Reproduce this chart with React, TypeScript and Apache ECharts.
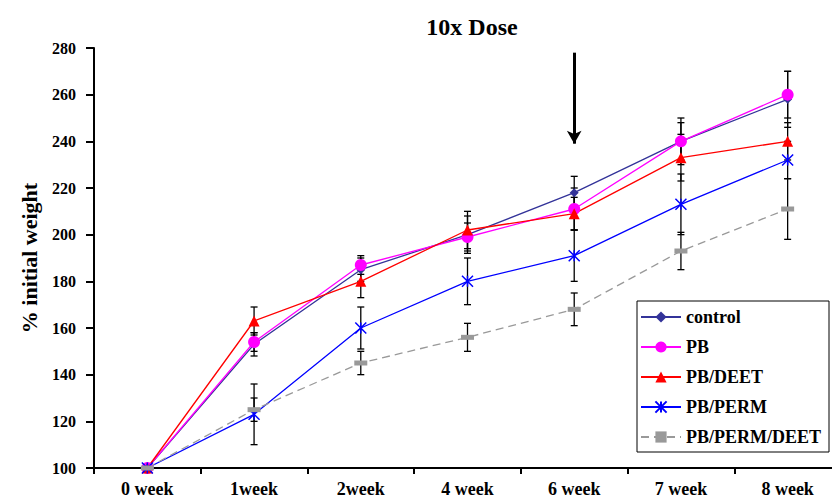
import React, { useEffect, useRef } from "react";
import * as echarts from "echarts";

const categories = ["0 week", "1week", "2week", "4 week", "6 week", "7 week", "8 week"];
const seriesNames = ["control", "PB", "PB/DEET", "PB/PERM", "PB/PERM/DEET"];
const controlValues = [100, 153, 185, 200, 218, 240, 258];
const pbValues = [100, 154, 187, 199, 211, 240, 260];
const pbDeetValues = [100, 163, 180, 202, 209, 233, 240];
const pbPermValues = [100, 123, 160, 180, 191, 213, 232];
const pbPermDeetValues = [100, 125, 145, 156, 168, 193, 211];
const controlErr = [0, 5, 5, 8, 7, 10, 12];
const pbErr = [0, 4, 4, 6, 9, 8, 10];
const pbDeetErr = [0, 6, 7, 8, 7, 10, 8];
const pbPermErr = [0, 13, 9, 10, 11, 13, 8];
const pbPermDeetErr = [0, 5, 5, 6, 7, 8, 13];
const yTicks = { min: 100, max: 280, interval: 20 };
const arrowFrom = 278;
const arrowTo = 239;
const arrowCategory = "6 week";

const FONT = "Liberation Serif";
const colors = ["#333399", "#ff00ff", "#ff0000", "#0000ff", "#999999"];
const symbols = [
  "diamond",
  "circle",
  "triangle",
  "path://M0,0 L10,10 M10,0 L0,10 M5,0 L5,10",
  "rect",
];
const symbolSizes: any[] = [9, 12, 11, 11, [13, 5]];

export default function App() {
  const ref = useRef<HTMLDivElement>(null);
  useEffect(() => {
    if (!ref.current) return;
    const chart = echarts.init(ref.current, null, { renderer: "svg" });
    const values = [controlValues, pbValues, pbDeetValues, pbPermValues, pbPermDeetValues];
    const errs = [controlErr, pbErr, pbDeetErr, pbPermErr, pbPermDeetErr];

    const errData: number[][] = [];
    values.forEach((vals, s) => {
      vals.forEach((v, i) => {
        if (errs[s][i] > 0) errData.push([i, v, errs[s][i]]);
      });
    });

    const lineSeries = seriesNames.map((name, s) => ({
      name,
      type: "line",
      data: values[s],
      symbol: symbols[s],
      symbolSize: symbolSizes[s],
      z: 3,
      lineStyle: {
        color: colors[s],
        width: 1.3,
        type: s === 4 ? [8, 5] : "solid",
      },
      itemStyle: {
        color: colors[s],
        borderColor: colors[s],
        borderWidth: s === 3 ? 1.5 : 0,
        opacity: 1,
      },
      ...(s === 0
        ? {
            markLine: {
              silent: true,
              symbol: ["none", "arrow"],
              symbolSize: [11, 13],
              label: { show: false },
              lineStyle: { color: "#000", width: 3, type: "solid" },
              data: [
                [
                  { coord: [arrowCategory, arrowFrom] },
                  { coord: [arrowCategory, arrowTo] },
                ],
              ],
            },
          }
        : {}),
    }));

    const errSeries = {
      type: "custom",
      name: "err",
      z: 2,
      data: errData,
      renderItem: (params: any, api: any) => {
        const x = api.value(0);
        const v = api.value(1);
        const e = api.value(2);
        const top = api.coord([x, v + e]);
        const bot = api.coord([x, v - e]);
        const w = 3.5;
        const st = { stroke: "#000", lineWidth: 1.3 };
        return {
          type: "group",
          children: [
            { type: "line", shape: { x1: top[0], y1: top[1], x2: bot[0], y2: bot[1] }, style: st },
            { type: "line", shape: { x1: top[0] - w, y1: top[1], x2: top[0] + w, y2: top[1] }, style: st },
            { type: "line", shape: { x1: bot[0] - w, y1: bot[1], x2: bot[0] + w, y2: bot[1] }, style: st },
          ],
        };
      },
    };

    chart.setOption({
      animation: false,
      title: {
        text: "10x Dose",
        left: 467,
        top: 10,
        textAlign: "center",
        textStyle: { fontFamily: FONT, fontWeight: "bold", fontSize: 24, color: "#000" },
      },
      grid: { left: 94, top: 48, width: 747, height: 420, outerBoundsMode: "none", containLabel: false },
      legend: {
        data: seriesNames,
        orient: "vertical",
        left: 637,
        top: 301,
        width: 187,
        padding: [6, 8, 5, 3],
        itemGap: 10,
        itemWidth: 40,
        itemHeight: 14,
        borderColor: "#000",
        borderWidth: 1,
        backgroundColor: "#fff",
        textStyle: { fontFamily: FONT, fontWeight: "bold", fontSize: 18, color: "#000", lineHeight: 20 },
      },
      xAxis: {
        type: "category",
        data: categories,
        boundaryGap: true,
        axisLine: { lineStyle: { color: "#000", width: 2 } },
        axisTick: { show: true, length: 6, lineStyle: { color: "#000", width: 2 } },
        axisLabel: { fontFamily: FONT, fontWeight: "bold", fontSize: 18, color: "#000", margin: 12 },
      },
      yAxis: {
        type: "value",
        min: yTicks.min,
        max: yTicks.max,
        interval: yTicks.interval,
        splitLine: { show: false },
        axisLine: { show: true, lineStyle: { color: "#000", width: 2 } },
        axisTick: { show: true, length: 8, lineStyle: { color: "#000", width: 2 } },
        axisLabel: { fontFamily: FONT, fontWeight: "bold", fontSize: 16, color: "#000", margin: 18 },
      },
      graphic: [
        {
          type: "text",
          x: 29,
          y: 258,
          rotation: Math.PI / 2,
          style: {
            text: "% initial weight",
            fontFamily: FONT,
            fontWeight: "bold",
            fontSize: 22,
            fill: "#000",
            align: "center",
            verticalAlign: "middle",
          },
        },
      ],
      series: [errSeries, ...lineSeries],
    });
    return () => chart.dispose();
  }, []);
  return (
    <div
      ref={ref}
      style={{ position: "absolute", left: 0, top: 0, width: 832, height: 499 }}
    />
  );
}
